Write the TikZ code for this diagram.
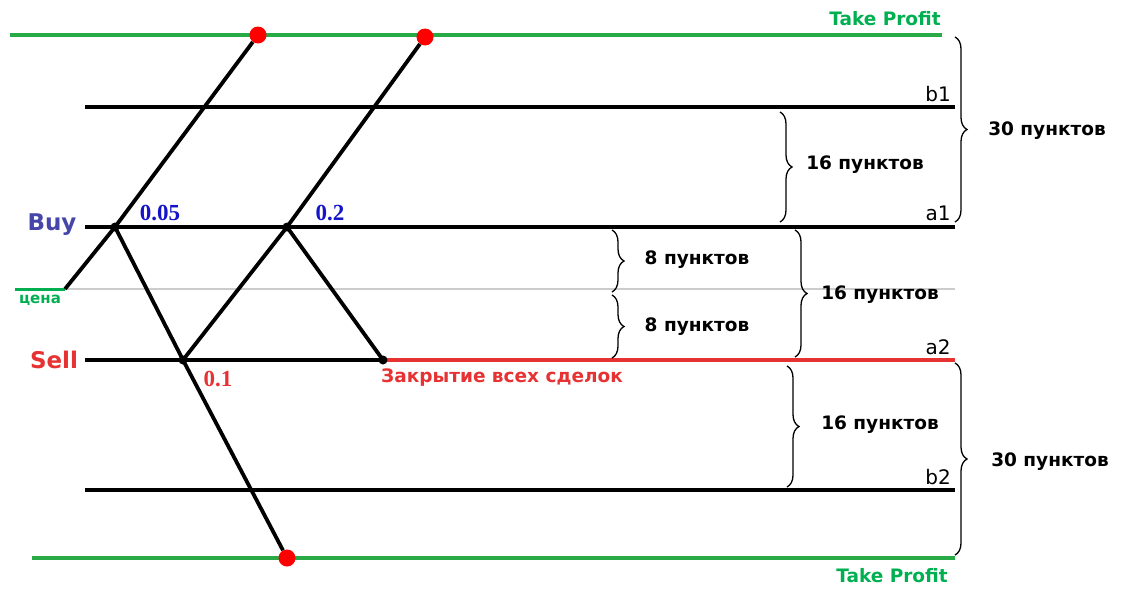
\documentclass[tikz,border=0pt]{standalone}
\usepackage{fontspec}
\setmainfont{DejaVu Sans}
\newfontfamily\serifb{Liberation Serif}
\usetikzlibrary{decorations.pathreplacing}
\definecolor{tpgreen}{RGB}{40,170,70}
\definecolor{lblgreen}{RGB}{0,176,80}
\definecolor{sellred}{RGB}{230,50,50}
\definecolor{buyblue}{RGB}{70,70,170}
\definecolor{numblue}{RGB}{20,20,200}
\begin{document}
\begin{tikzpicture}[x=1pt,y=-1pt,
  lvl/.style={line width=3.8pt},
  diag/.style={line width=3.8pt},
  tp/.style={line width=3.8pt,tpgreen},
  br/.style={decorate,decoration={brace,amplitude=12pt},line width=1.3pt},
  txt/.style={font=\bfseries\fontsize{18.5}{21}\selectfont},
  num/.style={font=\serifb\bfseries\fontsize{23}{25}\selectfont},
  dot/.style={circle,fill=black,inner sep=0pt,minimum size=9pt},
  rdot/.style={circle,fill=red,inner sep=0pt,minimum size=17pt}]
\useasboundingbox (0,0) rectangle (1126,597);
% levels
\draw[tp] (10,35) -- (942,35);
\draw[lvl] (85,107) -- (955,107);
\draw[lvl] (85,227) -- (955,227);
\draw[gray!40,line width=1.2pt] (65,289) -- (955,289);
\draw[lblgreen,line width=3pt] (15,289) -- (65,289);
\draw[lvl] (85,360) -- (385,360);
\draw[lvl,sellred] (385,360) -- (955,360);
\draw[lvl] (85,490) -- (955,490);
\draw[tp] (32,558) -- (955,558);
% coordinates
\coordinate (p0) at (65,289);
\node[dot] (b05) at (115,227) {};
\node[dot] (s01) at (183,360) {};
\node[dot] (b02) at (287,227) {};
\node[dot] (cl) at (383,360) {};
\node[rdot] (t1) at (258,35) {};
\node[rdot] (t2) at (425,37) {};
\node[rdot] (t3) at (287,558) {};
\draw[diag] (p0) -- (b05.center) -- (t1);
\draw[diag] (b05.center) -- (s01.center) -- (t3);
\draw[diag] (s01.center) -- (b02.center) -- (t2);
\draw[diag] (b02.center) -- (cl.center);
% labels
\node[txt,lblgreen] (tpa) at (885,19) {Take Profit};
\node[txt,lblgreen] (tpb) at (892,576) {Take Profit};
\node[font=\fontsize{20}{22}\selectfont] (lb1) at (938,94) {b1};
\node[font=\fontsize{20}{22}\selectfont] (la1) at (938,213) {a1};
\node[font=\fontsize{20}{22}\selectfont] (la2) at (938,347) {a2};
\node[font=\fontsize{20}{22}\selectfont] (lb2) at (938,477) {b2};
\node[font=\bfseries\fontsize{23}{25}\selectfont,buyblue] (buy) at (52,225) {Buy};
\node[font=\bfseries\fontsize{23}{25}\selectfont,sellred] (sell) at (54,360) {Sell};
\node[font=\bfseries\fontsize{15}{17}\selectfont,lblgreen] (cena) at (40,300) {цена};
\node[num,numblue] (n1) at (160,213) {0.05};
\node[num,numblue] (n2) at (330,213) {0.2};
\node[num,sellred] (n3) at (218,379) {0.1};
\node[txt,sellred] (close) at (502,378) {Закрытие всех сделок};
% braces
\draw[br] (780,112) -- (780,222);
\node[txt] (l1) at (865,165) {16 пунктов};
\draw[br] (955,37) -- (955,222);
\node[txt] (l2) at (1047,131) {30 пунктов};
\draw[br] (612,230) -- (612,292);
\node[txt] (l3) at (697,260) {8 пунктов};
\draw[br] (612,295) -- (612,358);
\node[txt] (l4) at (697,327) {8 пунктов};
\draw[br] (795,230) -- (795,357);
\node[txt] (l5) at (880,295) {16 пунктов};
\draw[br] (787,366) -- (787,487);
\node[txt] (l6) at (880,425) {16 пунктов};
\draw[br] (955,363) -- (955,555);
\node[txt] (l7) at (1050,462) {30 пунктов};
\end{tikzpicture}
\end{document}
